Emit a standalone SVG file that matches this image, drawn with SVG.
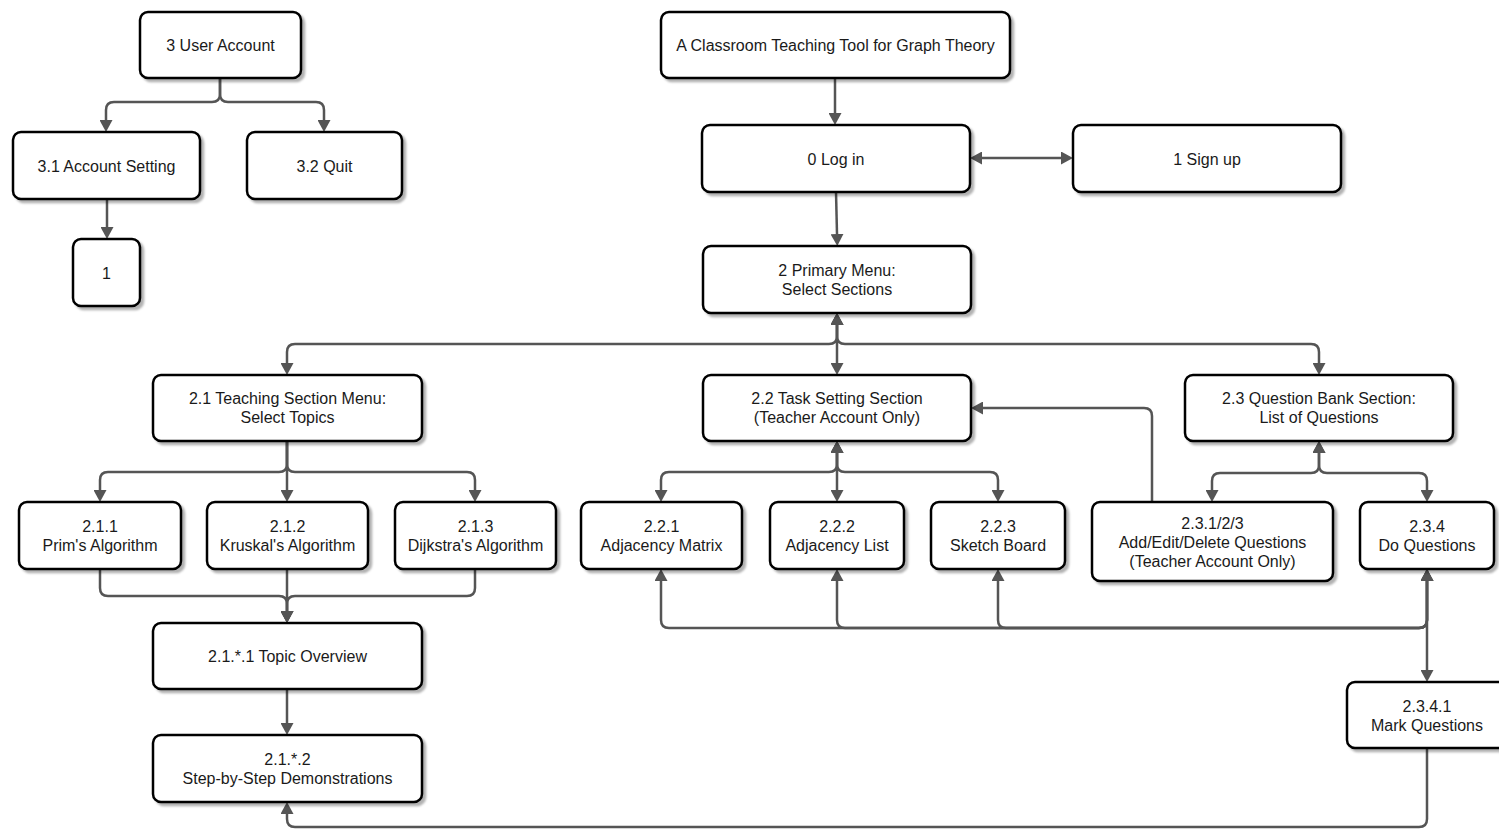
<svg xmlns="http://www.w3.org/2000/svg" width="1499" height="829" viewBox="0 0 1499 829">
  <style>
    .box { fill: #ffffff; stroke: #000000; stroke-width: 2.5; filter: url(#shadow); }
    .lbl { font-family: "Liberation Sans", Arial, sans-serif; font-size: 16px; fill: #1a1a1a; text-anchor: middle; dominant-baseline: central; }
    .edge { fill: none; stroke: #555555; stroke-width: 2.5; }
    .one { marker-end: url(#arrow); }
    .two { marker-start: url(#arrow); marker-end: url(#arrow); }
  </style>
  <defs>
    <filter id="shadow" x="-10%" y="-10%" width="130%" height="140%">
      <feDropShadow dx="3" dy="3" stdDeviation="1.2" flood-color="#000000" flood-opacity="0.3"/>
    </filter>
    <marker id="arrow" viewBox="0 0 12 13" refX="0" refY="6.5" markerWidth="12" markerHeight="13" markerUnits="userSpaceOnUse" orient="auto-start-reverse">
      <path d="M0,0 L12,6.5 L0,13 Z" fill="#555555"/>
    </marker>
  </defs>

  <!-- connectors -->
  <g id="connectors">
    <path class="edge one" d="M220,78 V94 Q220,102 212,102 H114 Q106,102 106,110 V120"/>
    <path class="edge one" d="M220,78 V94 Q220,102 228,102 H316 Q324,102 324,110 V120"/>
    <path class="edge one" d="M107,199 V227"/>
    <path class="edge one" d="M835,78 V113"/>
    <path class="edge two" d="M982,158 H1061"/>
    <path class="edge one" d="M836,192 L837,234"/>
    <path class="edge two" d="M837,325 V336 Q837,344 829,344 H295 Q287,344 287,352 V363"/>
    <path class="edge two" d="M837,325 V363"/>
    <path class="edge two" d="M837,325 V336 Q837,344 845,344 H1311 Q1319,344 1319,352 V363"/>
    <path class="edge one" d="M287,441 V464 Q287,472 279,472 H108 Q100,472 100,480 V490"/>
    <path class="edge one" d="M287,441 V490"/>
    <path class="edge one" d="M287,441 V464 Q287,472 295,472 H467 Q475,472 475,480 V490"/>
    <path class="edge one" d="M100,569 V588 Q100,596 108,596 H279 Q287,596 287,604 V611"/>
    <path class="edge one" d="M287,569 V611"/>
    <path class="edge one" d="M475,569 V588 Q475,596 467,596 H295 Q287,596 287,604 V611"/>
    <path class="edge one" d="M287,689 V723"/>
    <path class="edge two" d="M837,453 V464 Q837,472 829,472 H669 Q661,472 661,480 V490"/>
    <path class="edge two" d="M837,453 V490"/>
    <path class="edge two" d="M837,453 V464 Q837,472 845,472 H990 Q998,472 998,480 V490"/>
    <path class="edge one" d="M1152,502 V416 Q1152,408 1144,408 H983"/>
    <path class="edge two" d="M1319,453 V465 Q1319,473 1311,473 H1220 Q1212,473 1212,481 V490"/>
    <path class="edge two" d="M1319,453 V465 Q1319,473 1327,473 H1419 Q1427,473 1427,481 V490"/>
    <path class="edge two" d="M661,581 V620 Q661,628 669,628 H1419 Q1427,628 1427,620 V581"/>
    <path class="edge two" d="M837,581 V620 Q837,628 845,628 H1419 Q1427,628 1427,620 V581"/>
    <path class="edge two" d="M998,581 V620 Q998,628 1006,628 H1419 Q1427,628 1427,620 V581"/>
    <path class="edge one" d="M1427,569 V670"/>
    <path class="edge one" d="M1427,748 V819 Q1427,827 1419,827 H295 Q287,827 287,819 V814"/>
  </g>

  <!-- user account branch -->
  <g id="node-3">
    <rect class="box" x="140" y="12" width="161" height="66" rx="8"/>
    <text class="lbl" x="220.5" y="45">3 User Account</text>
  </g>
  <g id="node-3-1">
    <rect class="box" x="13" y="132" width="187" height="67" rx="8"/>
    <text class="lbl" x="106.5" y="166">3.1 Account Setting</text>
  </g>
  <g id="node-3-2">
    <rect class="box" x="247" y="132" width="155" height="67" rx="8"/>
    <text class="lbl" x="324.5" y="166">3.2 Quit</text>
  </g>
  <g id="node-3-1-ref">
    <rect class="box" x="73" y="239" width="67" height="67" rx="8"/>
    <text class="lbl" x="106.5" y="273">1</text>
  </g>

  <!-- entry -->
  <g id="node-root">
    <rect class="box" x="661" y="12" width="349" height="66" rx="8"/>
    <text class="lbl" x="835.5" y="45">A Classroom Teaching Tool for Graph Theory</text>
  </g>
  <g id="node-0">
    <rect class="box" x="702" y="125" width="268" height="67" rx="8"/>
    <text class="lbl" x="836" y="159">0 Log in</text>
  </g>
  <g id="node-1">
    <rect class="box" x="1073" y="125" width="268" height="67" rx="8"/>
    <text class="lbl" x="1207" y="159">1 Sign up</text>
  </g>
  <g id="node-2">
    <rect class="box" x="703" y="246" width="268" height="67" rx="8"/>
    <text class="lbl" x="837" y="270">2 Primary Menu:</text>
    <text class="lbl" x="837" y="289">Select Sections</text>
  </g>

  <!-- sections -->
  <g id="node-2-1">
    <rect class="box" x="153" y="375" width="269" height="66" rx="8"/>
    <text class="lbl" x="287.5" y="398">2.1 Teaching Section Menu:</text>
    <text class="lbl" x="287.5" y="417">Select Topics</text>
  </g>
  <g id="node-2-2">
    <rect class="box" x="703" y="375" width="268" height="66" rx="8"/>
    <text class="lbl" x="837" y="398">2.2 Task Setting Section</text>
    <text class="lbl" x="837" y="417">(Teacher Account Only)</text>
  </g>
  <g id="node-2-3">
    <rect class="box" x="1185" y="375" width="268" height="66" rx="8"/>
    <text class="lbl" x="1319" y="398">2.3 Question Bank Section:</text>
    <text class="lbl" x="1319" y="417">List of Questions</text>
  </g>

  <!-- teaching topics -->
  <g id="node-2-1-1">
    <rect class="box" x="19" y="502" width="162" height="67" rx="8"/>
    <text class="lbl" x="100" y="526">2.1.1</text>
    <text class="lbl" x="100" y="545">Prim's Algorithm</text>
  </g>
  <g id="node-2-1-2">
    <rect class="box" x="207" y="502" width="161" height="67" rx="8"/>
    <text class="lbl" x="287.5" y="526">2.1.2</text>
    <text class="lbl" x="287.5" y="545">Kruskal's Algorithm</text>
  </g>
  <g id="node-2-1-3">
    <rect class="box" x="395" y="502" width="161" height="67" rx="8"/>
    <text class="lbl" x="475.5" y="526">2.1.3</text>
    <text class="lbl" x="475.5" y="545">Dijkstra's Algorithm</text>
  </g>
  <g id="node-2-1-x-1">
    <rect class="box" x="153" y="623" width="269" height="66" rx="8"/>
    <text class="lbl" x="287.5" y="656">2.1.*.1 Topic Overview</text>
  </g>
  <g id="node-2-1-x-2">
    <rect class="box" x="153" y="735" width="269" height="67" rx="8"/>
    <text class="lbl" x="287.5" y="759">2.1.*.2</text>
    <text class="lbl" x="287.5" y="778">Step-by-Step Demonstrations</text>
  </g>

  <!-- task setting tools -->
  <g id="node-2-2-1">
    <rect class="box" x="581" y="502" width="161" height="67" rx="8"/>
    <text class="lbl" x="661.5" y="526">2.2.1</text>
    <text class="lbl" x="661.5" y="545">Adjacency Matrix</text>
  </g>
  <g id="node-2-2-2">
    <rect class="box" x="770" y="502" width="134" height="67" rx="8"/>
    <text class="lbl" x="837" y="526">2.2.2</text>
    <text class="lbl" x="837" y="545">Adjacency List</text>
  </g>
  <g id="node-2-2-3">
    <rect class="box" x="931" y="502" width="134" height="67" rx="8"/>
    <text class="lbl" x="998" y="526">2.2.3</text>
    <text class="lbl" x="998" y="545">Sketch Board</text>
  </g>

  <!-- question bank -->
  <g id="node-2-3-1-2-3">
    <rect class="box" x="1092" y="502" width="241" height="79" rx="8"/>
    <text class="lbl" x="1212.5" y="523">2.3.1/2/3</text>
    <text class="lbl" x="1212.5" y="542">Add/Edit/Delete Questions</text>
    <text class="lbl" x="1212.5" y="561">(Teacher Account Only)</text>
  </g>
  <g id="node-2-3-4">
    <rect class="box" x="1360" y="502" width="134" height="67" rx="8"/>
    <text class="lbl" x="1427" y="526">2.3.4</text>
    <text class="lbl" x="1427" y="545">Do Questions</text>
  </g>
  <g id="node-2-3-4-1">
    <rect class="box" x="1347" y="682" width="162" height="66" rx="8"/>
    <text class="lbl" x="1427" y="706">2.3.4.1</text>
    <text class="lbl" x="1427" y="725">Mark Questions</text>
  </g>
</svg>
